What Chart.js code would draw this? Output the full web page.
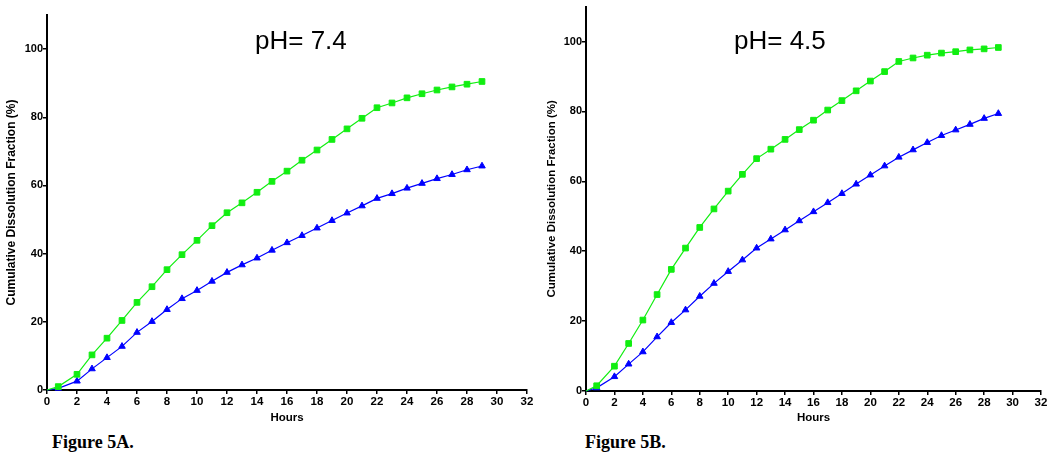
<!DOCTYPE html>
<html>
<head>
<meta charset="utf-8">
<script src="https://cdn.jsdelivr.net/npm/chart.js@4/dist/chart.umd.min.js"></script>
<style>
  body { margin: 0; background: #fff; width: 1050px; height: 465px; position: relative; overflow: hidden; }
  canvas { position: absolute; top: 0; }
  .ph { position: absolute; font-family: "Liberation Sans", Arial, sans-serif; font-size: 26px; line-height: 26px; color: #000; }
  .fig { position: absolute; font-family: "Liberation Serif", "Times New Roman", serif; font-weight: bold; font-size: 18px; line-height: 18px; color: #000; }
</style>
</head>
<body>
<canvas id="chartA" width="540" height="430" style="left:0px"></canvas>
<canvas id="chartB" width="510" height="431" style="left:540px"></canvas>
<div class="ph" style="left:255px; top:27px;">pH= 7.4</div>
<div class="ph" style="left:734px; top:27px;">pH= 4.5</div>
<div class="fig" style="left:52px; top:433px;">Figure 5A.</div>
<div class="fig" style="left:585px; top:433px;">Figure 5B.</div>
<script>
// sampling times (hours)
const hours = [0, 0.75, 2, 3, 4, 5, 6, 7, 8, 9, 10, 11, 12, 13, 14, 15, 16, 17, 18, 19, 20, 21, 22, 23, 24, 25, 26, 27, 28, 29];

// Figure 5A, pH 7.4
const greenA = [0, 1.0, 4.6, 10.3, 15.2, 20.4, 25.7, 30.3, 35.3, 39.7, 43.9, 48.2, 52.0, 54.9, 58.0, 61.2, 64.2, 67.4, 70.4, 73.5, 76.6, 79.7, 82.8, 84.2, 85.7, 86.9, 88.0, 88.9, 89.7, 90.5];
const blueA = [0, 0.5, 2.6, 6.2, 9.5, 12.8, 16.9, 20.1, 23.6, 26.8, 29.2, 31.9, 34.5, 36.7, 38.7, 41.0, 43.2, 45.3, 47.5, 49.7, 51.9, 54.0, 56.2, 57.6, 59.2, 60.6, 62.0, 63.2, 64.6, 65.7];

// Figure 5B, pH 4.5
const greenB = [0, 1.5, 7.1, 13.6, 20.3, 27.6, 34.8, 40.9, 46.8, 52.1, 57.2, 62.0, 66.5, 69.2, 72.0, 74.8, 77.5, 80.4, 83.1, 85.9, 88.7, 91.4, 94.3, 95.3, 96.1, 96.7, 97.1, 97.6, 97.9, 98.3];
const blueB = [0, 0.9, 4.1, 7.7, 11.2, 15.5, 19.6, 23.2, 27.1, 30.8, 34.2, 37.5, 40.9, 43.5, 46.1, 48.7, 51.3, 53.9, 56.5, 59.2, 61.8, 64.4, 66.9, 69.0, 71.1, 73.1, 74.7, 76.3, 78.0, 79.4];

const xTitle = "Hours";
const yTitle = "Cumulative Dissolution Fraction (%)";

function pts(vals) {
  return hours.map((h, i) => ({ x: h, y: vals[i] }));
}

function series(vals, color, style, r) {
  return {
    data: pts(vals),
    borderColor: color,
    backgroundColor: color,
    borderWidth: 1.2,
    pointStyle: style,
    pointRadius: (ctx) => (ctx.dataIndex === 0 ? 0 : r),
    pointBorderWidth: 1,
    pointBorderColor: color,
    showLine: true,
    clip: false
  };
}

function makeChart(id, green, blue, g) {
  new Chart(document.getElementById(id), {
    type: "scatter",
    data: {
      datasets: [
        series(green, "#11ee11", "rect", 4),
        series(blue, "#0000ff", "triangle", 3.8)
      ]
    },
    options: {
      responsive: false,
      animation: false,
      devicePixelRatio: 1,
      layout: { padding: { left: 0, top: g.top, right: g.right, bottom: 0 } },
      plugins: { legend: { display: false }, tooltip: { enabled: false } },
      scales: {
        x: {
          type: "linear",
          min: 0,
          max: 32,
          afterFit: (s) => { s.height = g.xh; },
          border: { color: "#000", width: 2 },
          grid: { drawOnChartArea: false, drawTicks: true, tickLength: 4, color: "#000", lineWidth: 1.5 },
          ticks: { stepSize: 2, padding: 1, color: "#000", font: { family: "Liberation Sans, Arial", size: 11.5, weight: "bold" } },
          title: { display: true, text: xTitle, color: "#000", padding: { top: 0, bottom: g.xtp }, font: { family: "Liberation Sans, Arial", size: 11.5, weight: "bold" } }
        },
        y: {
          min: 0,
          max: 110,
          afterFit: (s) => { s.width = g.yw; },
          border: { color: "#000", width: 2 },
          grid: { drawOnChartArea: false, drawTicks: true, tickLength: 4, color: "#000", lineWidth: 1.5 },
          ticks: { stepSize: 20, includeBounds: false, padding: 0, color: "#000", font: { family: "Liberation Sans, Arial", size: 11, weight: "bold" } },
          title: { display: true, text: yTitle, color: "#000", padding: { top: g.ytp, bottom: 0 }, font: { family: "Liberation Sans, Arial", size: g.yts, weight: "bold" } }
        }
      }
    }
  });
}

makeChart("chartA", greenA, blueA, { top: 15, right: 13, xh: 40, yw: 47, xtp: 5, ytp: 4, yts: 12 });
makeChart("chartB", greenB, blueB, { top: 3, right: 9, xh: 40, yw: 46, xtp: 6, ytp: 5, yts: 11.5 });
</script>
</body>
</html>
